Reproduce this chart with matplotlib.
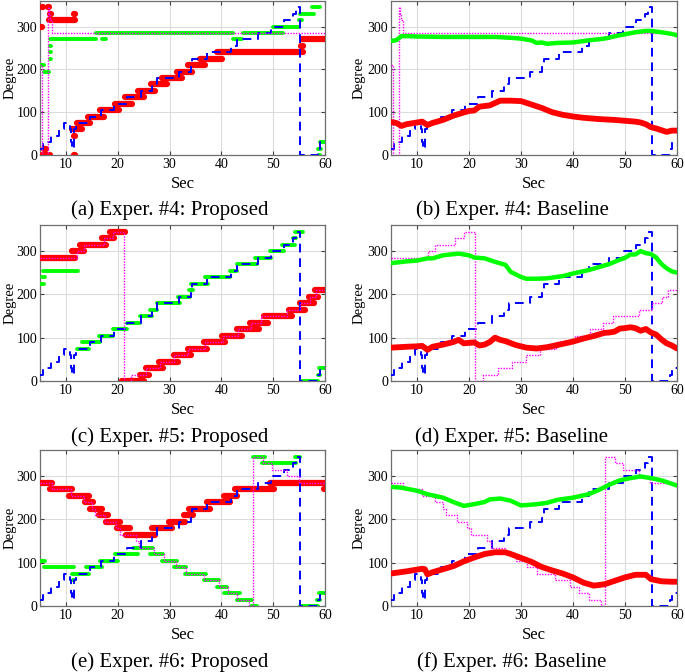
import matplotlib
matplotlib.use("Agg")
import matplotlib.pyplot as plt

plt.rcParams['font.family'] = ['Liberation Serif', 'DejaVu Serif']

# ground truth 1 (blue dashed), same in all experiments: step starts / values
gt1_t = [5.0, 5.5, 7.2, 8.6, 9.6, 10.7, 11.0, 11.2, 11.5, 11.9, 14.7, 16.7, 19.3, 21.8, 24.4, 26.7,
         27.6, 31.8, 34.1, 34.4, 37.3, 41.8, 43.0, 47.0, 49.6, 52.1, 53.8, 54.4, 55.2, 58.6, 59.1, 60.0]
gt1_deg = [15, 30, 45, 60, 75, 60, 30, 15, 60, 75, 90, 105, 120, 135, 150, 165,
           180, 195, 210, 225, 240, 255, 270, 285, 300, 315, 330, 345, 0, 15, 30, 30]

# ground truth 2 (magenta dotted)
gt2_4_t = [5.0, 5.4, 6.6, 6.8, 7.0, 7.3, 60.0]
gt2_4_deg = [210, 0, 345, 330, 315, 285, 285]

gt2_5_t = [5.0, 12.1, 13.5, 17.3, 19.0, 21.2, 22.6, 25.5, 28.2, 30.9, 33.6, 36.8, 40.3, 43.3, 45.8,
           47.6, 52.7, 55.2, 57.2, 58.3, 60.0]
gt2_5_deg = [285, 300, 315, 330, 345, 0, 15, 30, 45, 60, 75, 90, 105, 120, 135,
             150, 165, 180, 195, 210, 210]

gt2_6_t = [5.0, 7.3, 10.9, 13.4, 15.0, 15.6, 17.6, 19.7, 20.4, 23.5, 24.2, 27.0, 29.0, 31.2, 33.1,
           36.6, 39.5, 41.2, 43.1, 45.3, 46.2, 48.1, 49.7, 52.6, 54.9, 60.0]
gt2_6_deg = [285, 270, 255, 240, 225, 210, 195, 180, 165, 150, 135, 120, 105, 90, 75,
             60, 45, 30, 15, 0, 345, 330, 315, 300, 285, 285]

# proposed method estimates: (start sec, end sec, degree)
red_4 = [(5.0, 5.4, 300), (5.45, 5.55, 345), (6.6, 6.8, 345), (5.55, 5.65, 315), (5.4, 6.9, 0),
         (5.7, 6.1, 15), (6.9, 7.1, 330), (6.7, 11.8, 315), (11.5, 11.7, 330), (11.5, 11.7, 0),
         (11.5, 11.7, 45), (11.1, 13.1, 60), (12.1, 14.7, 75), (14.2, 17.3, 90), (16.5, 20.3, 105),
         (19.5, 22.8, 120), (21.4, 25.0, 135), (24.0, 27.2, 150), (26.4, 29.5, 165), (28.5, 32.4, 180),
         (31.5, 34.4, 195), (33.6, 36.9, 210), (35.9, 40.2, 225), (39.2, 55.8, 240), (55.3, 55.7, 255),
         (55.5, 60.0, 270)]
green_4 = [(5.0, 5.7, 210), (5.7, 6.8, 195), (6.9, 7.1, 225), (6.9, 7.1, 240), (6.9, 7.1, 255),
           (7.0, 15.8, 270), (16.9, 17.8, 270), (15.8, 42.3, 285), (42.3, 44.0, 270), (44.1, 51.8, 285),
           (50.0, 55.0, 300), (54.9, 55.5, 315), (55.2, 57.8, 330), (57.5, 59.0, 345), (58.9, 59.1, 0),
           (58.6, 59.3, 15), (59.1, 60.0, 30)]

red_5 = [(5.0, 11.8, 285), (11.1, 13.4, 300), (12.7, 17.8, 315), (16.9, 19.2, 330), (18.5, 21.4, 345),
         (20.8, 25.0, 0), (24.3, 26.1, 15), (25.4, 28.7, 30), (28.0, 31.6, 45), (30.8, 34.1, 60),
         (33.5, 37.2, 75), (36.7, 40.7, 90), (40.1, 44.0, 105), (43.1, 47.2, 120), (45.5, 49.0, 135),
         (48.3, 53.6, 150), (53.0, 56.2, 165), (55.2, 57.8, 180), (57.0, 58.6, 195), (58.1, 60.0, 210)]
green_5 = [(5.0, 5.7, 225), (5.4, 6.0, 240), (5.6, 12.4, 255), (12.2, 14.5, 75), (13.1, 16.6, 90),
           (16.3, 19.0, 105), (19.0, 21.7, 120), (21.8, 24.3, 135), (24.3, 26.6, 150), (26.3, 27.5, 165),
           (27.5, 32.0, 180), (31.7, 34.0, 195), (33.8, 34.5, 210), (34.2, 37.5, 225), (36.9, 41.7, 240),
           (41.6, 43.0, 255), (43.0, 46.8, 270), (46.5, 49.5, 285), (49.4, 52.0, 300), (51.7, 54.2, 315),
           (53.9, 54.5, 330), (54.3, 55.8, 345), (55.5, 58.7, 0), (58.6, 59.1, 15), (58.9, 60.0, 30)]

red_6 = [(5.0, 7.3, 285), (7.0, 11.1, 270), (10.5, 14.4, 255), (13.7, 15.3, 240), (14.7, 16.9, 225),
         (16.3, 18.2, 210), (17.8, 20.5, 195), (19.8, 22.3, 180), (21.6, 27.2, 165), (26.6, 30.4, 180),
         (29.8, 33.0, 195), (32.7, 34.5, 210), (33.8, 37.8, 225), (37.2, 41.7, 240), (40.5, 43.0, 255),
         (42.7, 50.1, 270), (49.3, 60.0, 285), (59.9, 60.0, 270)]
green_6 = [(5.0, 6.0, 105), (5.7, 11.5, 90), (11.1, 14.4, 75), (11.4, 11.6, 60), (13.9, 16.9, 90),
           (16.6, 20.0, 105), (19.4, 24.0, 120), (23.0, 26.9, 135), (26.3, 28.8, 120), (28.5, 31.4, 105),
           (30.9, 33.2, 90), (32.9, 37.1, 75), (36.6, 39.6, 60), (39.2, 41.0, 45), (40.6, 43.5, 30),
           (43.0, 45.9, 15), (45.7, 46.8, 0), (46.2, 48.4, 345), (47.8, 54.5, 330), (54.2, 55.2, 345),
           (55.2, 58.6, 0), (58.5, 59.1, 15), (58.9, 60.0, 30)]

# baseline estimates (smooth tracks)
b_green_t = [5, 6, 7, 8, 10, 15, 20, 25, 28, 30, 31, 32, 33, 34, 35, 37, 40, 43, 46, 49, 52, 54, 55, 57, 59, 60]
b_green = [267, 268, 278, 278, 277, 276, 276, 276, 274, 272, 270, 268, 262, 263, 260, 262, 263, 268, 272,
           280, 287, 290, 290, 287, 283, 280]
b_red_t = [5, 6, 7, 8, 10, 11, 12, 13, 15, 17, 20, 21, 22, 24, 26, 28, 30, 32, 34, 36, 38, 40, 42, 45, 48,
           50, 52, 53, 54, 55, 56, 57, 58, 59, 60]
b_red = [77, 75, 68, 72, 76, 78, 70, 75, 82, 92, 103, 104, 113, 116, 127, 127, 126, 118, 110, 100, 94, 90,
         87, 84, 82, 80, 78, 76, 72, 65, 62, 58, 54, 57, 57]

d_green_t = [5, 8, 10, 12, 13, 15, 18, 20, 21, 23, 25, 27, 28, 30, 31, 33, 35, 38, 40, 43, 45, 47, 49, 50,
             51, 52, 53, 54, 55, 56, 57, 58, 59, 60]
d_green = [272, 276, 278, 283, 283, 290, 294, 290, 285, 283, 275, 268, 252, 240, 236, 236, 237, 242, 248,
           256, 263, 270, 280, 284, 292, 292, 300, 295, 293, 285, 270, 260, 253, 250]
d_red_t = [5, 8, 10, 11, 12, 13, 15, 17, 18, 19, 20, 21, 22, 23, 24, 25, 26, 27, 29, 31, 33, 35, 37, 40,
           42, 44, 46, 47, 48, 49, 50, 51, 52, 53, 54, 55, 56, 57, 58, 59, 60]
d_red = [77, 79, 80, 81, 72, 79, 84, 90, 95, 87, 88, 89, 82, 84, 90, 100, 95, 92, 83, 77, 75, 78, 83, 91,
         98, 104, 111, 112, 114, 121, 122, 124, 122, 116, 120, 112, 107, 96, 87, 82, 75]

f_green_t = [5, 7, 10, 12, 15, 17, 19, 21, 23, 24, 26, 28, 30, 31, 33, 35, 37, 40, 43, 45, 47, 49, 51,
             53, 55, 57, 60]
f_green = [275, 273, 266, 258, 250, 240, 231, 235, 240, 246, 248, 243, 232, 233, 235, 238, 245, 250, 258,
           268, 280, 290, 295, 299, 295, 290, 278]
f_red_t = [5, 8, 10, 11, 11.5, 12, 13, 15, 17, 19, 21, 23, 25, 27, 28, 30, 32, 34, 36, 38, 40, 42, 44,
           46, 48, 50, 52, 54, 55, 57, 59, 60]
f_red = [75, 80, 84, 86, 85, 73, 78, 85, 92, 103, 112, 120, 124, 124, 120, 111, 102, 90, 82, 75, 66, 54,
         47, 50, 58, 66, 72, 72, 62, 57, 56, 56]

captions = ["(a) Exper. #4: Proposed", "(b) Exper. #4: Baseline",
            "(c) Exper. #5: Proposed", "(d) Exper. #5: Baseline",
            "(e) Exper. #6: Proposed", "(f) Exper. #6: Baseline"]

W, H = 685, 672
fig = plt.figure(figsize=(W / 100, H / 100), dpi=100)

lefts = [40, 391]
widths = [285, 286]
tops = [1, 225, 450]
bottoms = [155, 381, 606]
cap_x = [170, 512]
cap_y = [210, 437, 662]
ylab_x = [16.5, 366]


def style(ax, c):
    ax.set_xlim(5, 60)
    ax.set_ylim(0, 360)
    ax.set_xticks([10, 20, 30, 40, 50, 60])
    ax.set_yticks([0, 100, 200, 300])
    ax.grid(True, color='#dcdcdc', lw=0.8)
    ax.set_axisbelow(True)
    ax.tick_params(direction='in', top=True, right=True, length=3, labelsize=10,
                   color='#404040', pad=2)
    for s in ax.spines.values():
        s.set_color('#6e6e6e')
        s.set_linewidth(0.9)
    ax.set_xlabel('Sec', fontsize=12)
    ax.set_ylabel('Degree', fontsize=10.5)
    ax.xaxis.set_label_coords(0.5, -0.135)
    ax.yaxis.set_label_coords((ylab_x[c] - lefts[c]) / widths[c], 0.5)


def draw_gt(ax, t2, d2):
    ax.step(gt1_t, gt1_deg, where='post', color='#0000ff', ls=(0, (4.5, 3)), lw=1.4, zorder=4)
    ax.step(t2, d2, where='post', color='#ff00ff', ls=(0, (1, 1)), lw=1.0, zorder=5)


def draw_segments(ax, segs, color, lw):
    for a, b, v in segs:
        ax.plot([a, b], [v, v], color=color, lw=lw, solid_capstyle='round', zorder=3)


gts = [(gt2_4_t, gt2_4_deg), (gt2_5_t, gt2_5_deg), (gt2_6_t, gt2_6_deg)]
props = [(red_4, green_4), (red_5, green_5), (red_6, green_6)]
bases = [(b_red_t, b_red, b_green_t, b_green), (d_red_t, d_red, d_green_t, d_green),
         (f_red_t, f_red, f_green_t, f_green)]

for r in range(3):
    for c in range(2):
        ax = fig.add_axes([lefts[c] / W, 1 - bottoms[r] / H, widths[c] / W, (bottoms[r] - tops[r]) / H])
        draw_gt(ax, *gts[r])
        if c == 0:
            red, green = props[r]
            draw_segments(ax, red, '#ff0000', 4.5)
            draw_segments(ax, green, '#00ff00', 2.8)
        else:
            rt, rv, gt, gv = bases[r]
            ax.plot(rt, rv, color='#ff0000', lw=4.2, zorder=6, solid_capstyle='round')
            ax.plot(gt, gv, color='#00ff00', lw=3.2, zorder=6, solid_capstyle='round')
        style(ax, c)
        fig.text(cap_x[c] / W, 1 - cap_y[r] / H, captions[2 * r + c],
                 ha='center', va='center', fontsize=15)

fig.savefig('out.png', dpi=100)
